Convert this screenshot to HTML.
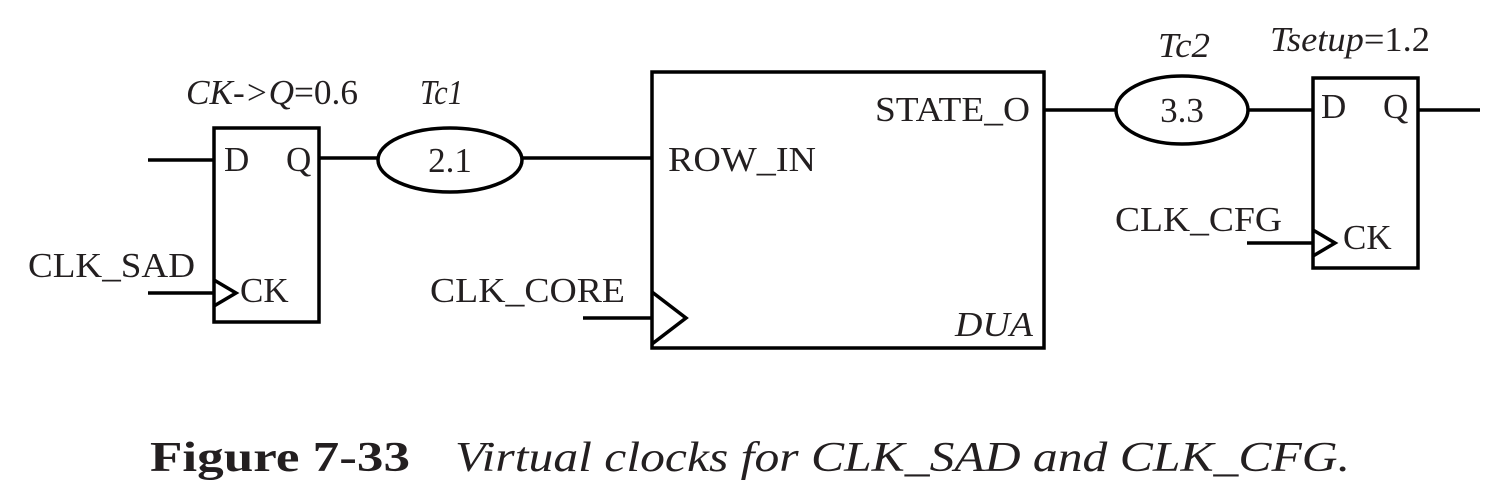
<!DOCTYPE html>
<html><head><meta charset="utf-8"><style>
html,body{margin:0;padding:0;background:#fff;}
svg{display:block;}
text{font-family:"Liberation Serif",serif;fill:#231f20;}
</style></head><body>
<svg width="1512" height="499" viewBox="0 0 1512 499" xmlns="http://www.w3.org/2000/svg">
<g stroke="#000" stroke-width="3.5" fill="none">
<rect x="214" y="128" width="105" height="194"/>
<line x1="148" y1="160" x2="214" y2="160"/>
<line x1="148" y1="293" x2="214" y2="293"/>
<polyline points="214,280 236,293 214,306"/>
<line x1="319" y1="158" x2="378" y2="158"/>
<ellipse cx="450" cy="160" rx="72" ry="32"/>
<line x1="522" y1="158" x2="652" y2="158"/>
<rect x="652" y="72" width="392" height="276"/>
<line x1="583" y1="318" x2="652" y2="318"/>
<polyline points="652,292 686,318 652,344"/>
<line x1="1044" y1="110" x2="1116" y2="110"/>
<ellipse cx="1182" cy="110" rx="66" ry="34"/>
<line x1="1248" y1="110" x2="1313" y2="110"/>
<rect x="1313" y="78" width="105" height="190"/>
<line x1="1418" y1="110" x2="1480" y2="110"/>
<line x1="1247" y1="243" x2="1313" y2="243"/>
<polyline points="1313,230 1335,243 1313,256"/>
</g>
<g font-size="35">
<text x="186" y="104" font-style="italic" textLength="172" lengthAdjust="spacingAndGlyphs">CK-&gt;Q<tspan font-style="normal">=0.6</tspan></text>
<text x="420" y="104" font-style="italic" textLength="43" lengthAdjust="spacingAndGlyphs">Tc1</text>
<text x="224" y="171">D</text>
<text x="286" y="171">Q</text>
<text x="240" y="302">CK</text>
<text x="28" y="277" textLength="167" lengthAdjust="spacingAndGlyphs">CLK_SAD</text>
<text x="450" y="172" text-anchor="middle">2.1</text>
<text x="668" y="171" textLength="148" lengthAdjust="spacingAndGlyphs">ROW_IN</text>
<text x="875" y="121" textLength="155" lengthAdjust="spacingAndGlyphs">STATE_O</text>
<text x="955" y="336" font-style="italic" textLength="78" lengthAdjust="spacingAndGlyphs">DUA</text>
<text x="430" y="302" textLength="195" lengthAdjust="spacingAndGlyphs">CLK_CORE</text>
<text x="1158" y="57" font-style="italic" textLength="52" lengthAdjust="spacingAndGlyphs">Tc2</text>
<text x="1182" y="122" text-anchor="middle">3.3</text>
<text x="1270" y="51" font-style="italic" textLength="160" lengthAdjust="spacingAndGlyphs">Tsetup<tspan font-style="normal">=1.2</tspan></text>
<text x="1321" y="118">D</text>
<text x="1383" y="118">Q</text>
<text x="1343" y="249">CK</text>
<text x="1115" y="231" textLength="167" lengthAdjust="spacingAndGlyphs">CLK_CFG</text>
</g>
<text x="150" y="471" font-size="42" font-weight="bold" textLength="260" lengthAdjust="spacingAndGlyphs">Figure 7-33</text>
<text x="455" y="471" font-size="42" font-style="italic" textLength="895" lengthAdjust="spacingAndGlyphs">Virtual clocks for CLK_SAD and CLK_CFG.</text>
</svg>
</body></html>
